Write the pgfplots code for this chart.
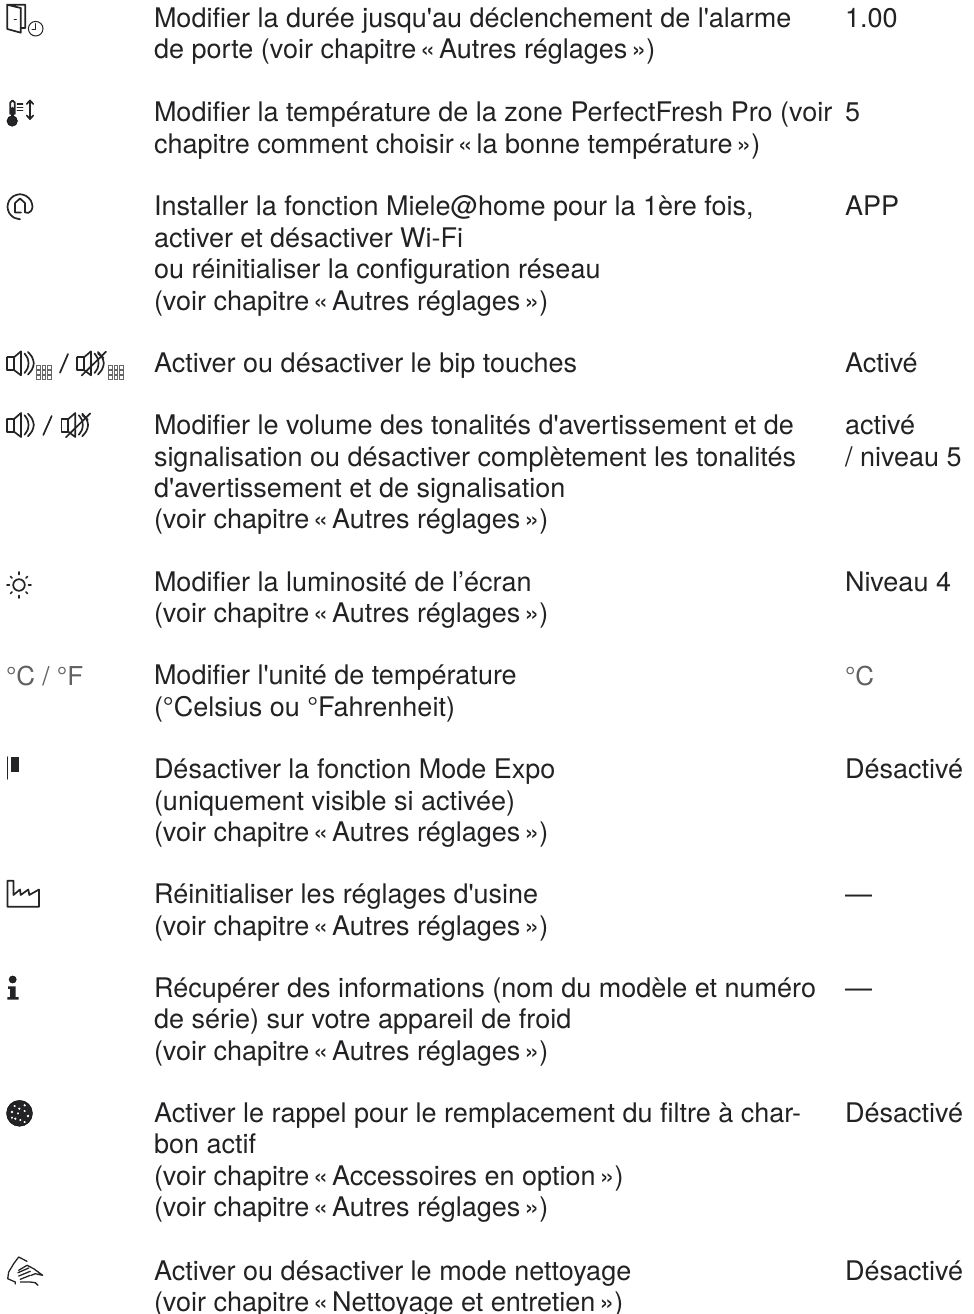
\documentclass[border=0pt]{standalone}
\usepackage{fontspec}
\usepackage{pgfplots}
\pgfplotsset{compat=1.18}
\newfontfamily\hv{TeX Gyre Heros}
\definecolor{ink}{HTML}{242426}
\definecolor{txt}{HTML}{222224}
\newcommand\og{\kern3.9pt«\kern3.9pt}
\newcommand\fg{\kern3.9pt»}
\pgfplotsset{ic/.style={draw=ink,line width=1.7pt,no markers,line join=round,line cap=round,forget plot}}
\newcommand\Ring[4]{\addplot[only marks,forget plot,mark=o,mark size=#3,mark options={draw=ink,line width=#4}] coordinates {(#1,#2)};}
\newcommand\Disc[4]{\addplot[only marks,forget plot,mark=*,mark size=#3,mark options={draw=none,fill=#4}] coordinates {(#1,#2)};}
\newcommand\Speaker[2]{%
 \addplot[ic,x filter/.expression={x+#1},y filter/.expression={y+#2}] coordinates {(7.3,357.3)(14,357.3)(14,370)(7.3,370)(7.3,357.3)};
 \addplot[ic,x filter/.expression={x+#1},y filter/.expression={y+#2}] coordinates {(14,357.3)(21,351.3)(21,375.3)(14,370)};
 \addplot[ic,smooth,x filter/.expression={x+#1},y filter/.expression={y+#2}] coordinates {(24.5,353.5)(27.5,358)(28.5,363.3)(27.5,368.5)(24.5,373)};
 \addplot[ic,smooth,x filter/.expression={x+#1},y filter/.expression={y+#2}] coordinates {(28,352)(32,357)(33.8,363.3)(32,369.5)(28,374.5)};
}
\newcommand\Mute[2]{%
 \Speaker{#1}{#2}
 \addplot[ic,x filter/.expression={x+#1},y filter/.expression={y+#2}] coordinates {(11.7,375.5)(36,351.7)};
 \addplot[ic,x filter/.expression={x+#1},y filter/.expression={y+#2}] coordinates {(28,353.5)(33.5,358)};
}
\newcommand\Keys[1]{%
 \addplot[only marks,forget plot,mark=square,mark size=1.9,mark options={draw=ink!70,line width=1pt},x filter/.expression={x+#1}] coordinates {(38.7,367.7)(44,367.7)(49.3,367.7)(38.7,372.5)(44,372.5)(49.3,372.5)(38.7,377.3)(44,377.3)(49.3,377.3)};
}
\newcommand\T[3]{\node[anchor=base west,inner sep=0pt,outer sep=0pt,text=txt] at (axis cs:#1,#2) {\hv\fontsize{27}{30}\selectfont #3};}
\newcommand\G[3]{\node[anchor=base west,inner sep=0pt,outer sep=0pt,text=black!62] at (axis cs:#1,#2) {\hv\fontsize{26}{30}\selectfont #3};}
\begin{document}
\begin{tikzpicture}
\begin{axis}[at={(0,0)},anchor=south west,scale only axis,width=974pt,height=1314pt,xmin=0,xmax=974,ymin=0,ymax=1314,y dir=reverse,hide axis,clip=false]
% door + clock
\addplot[ic] coordinates {(20.7,8)(7.3,4.8)(25.3,4.8)(25.3,28)(20.7,28)};
\addplot[ic] coordinates {(7.3,4.8)(7.3,29)(20.7,32.7)(20.7,8)};
\addplot[ic,line width=1.3pt] coordinates {(14.3,19.2)(16.3,19.2)};
\Ring{35.7}{28.7}{7.3}{1pt}
\addplot[ic,line width=0.9pt] coordinates {(35.7,23.5)(35.7,29.2)(32,29.2)};
% thermometer
\addplot[ic,line width=1.8pt] coordinates {(10.3,114)(10.3,102.5)(12.5,100.5)(14.8,102.5)(14.8,114)};
\addplot[ic,line width=2.5pt] coordinates {(12.5,108)(12.5,118)};
\Disc{12.2}{121}{5.3}{ink}
\addplot[ic,line width=1.3pt] coordinates {(17.3,104)(22.7,104)};
\addplot[ic,line width=1.3pt] coordinates {(17.3,107.4)(22.7,107.4)};
\addplot[ic,line width=1.3pt] coordinates {(17.3,110.7)(22.7,110.7)};
\addplot[ic] coordinates {(30,100.5)(30,119)};
\addplot[ic] coordinates {(26.8,104)(30,100.5)(33.2,104)};
\addplot[ic] coordinates {(26.8,115.5)(30,119)(33.2,115.5)};
% at-home
\addplot[ic,smooth] coordinates {(20,219.2)(13.7,217.5)(9.2,213)(7.5,206.7)(9.2,200.5)(13.7,196)(20,194.2)(26.2,196)(30.8,200.5)(32.5,206.7)(31,211)(28.5,212.8)(25,212.3)};
\addplot[ic] coordinates {(25,212.3)(25,203)(20,198.5)(15,203)(15,212.5)(21,212.5)};
% speakers
\Speaker{0}{0}
\Keys{0}
\addplot[ic] coordinates {(60,372.7)(68,354)};
\Mute{70}{0}
\Keys{72}
\Speaker{0}{61.7}
\addplot[ic] coordinates {(43.3,435)(51.7,416)};
\Mute{54.3}{61.7}
% sun
\Ring{19}{585}{5.8}{1.7pt}
\addplot[ic] coordinates {(19,572)(19,574.5)};
\addplot[ic] coordinates {(19,595.5)(19,598)};
\addplot[ic] coordinates {(7,585)(9.5,585)};
\addplot[ic] coordinates {(28.5,585)(31,585)};
\addplot[ic] coordinates {(10.5,576.5)(12,578)};
\addplot[ic] coordinates {(26,592)(27.5,593.5)};
\addplot[ic] coordinates {(27.5,576.5)(26,578)};
\addplot[ic] coordinates {(12,592)(10.5,593.5)};
% C / F
\G{6}{685}{°C / °F}
% flag
\addplot[ic,line width=1.2pt] coordinates {(7.5,757)(7.5,779)};
\addplot[draw=none,fill=ink,forget plot] coordinates {(10.8,756.8)(19.3,756.8)(19.3,772)(10.8,772)} --cycle;
% factory
\addplot[ic] coordinates {(7.5,880.7)(13.5,880.7)(13.5,895)(20,889.5)(20.7,895)(28.3,889.5)(29.3,895)(39,889.5)(39,906.7)(7.5,906.7)(7.5,880.7)};
% info
\Disc{12.7}{979.5}{3.6}{ink}
\addplot[draw=none,fill=ink,forget plot] coordinates {(8,986.3)(15.5,986.3)(15.5,997)(18.7,997)(18.7,999.7)(7.3,999.7)(7.3,997)(10,997)(10,988.8)(8,988.8)} --cycle;
% filter disc
\Disc{19.5}{1113.3}{13}{ink}
\addplot[only marks,forget plot,mark=*,mark size=1.8,mark options={draw=none,fill=white}] coordinates {(14.7,1106)(19.3,1108.7)(24.7,1105.3)(12,1112)(18,1113.3)(24.7,1111)(28,1116)(15.3,1118.7)(20.3,1120)(24.7,1122)(12,1117.7)};
% hand
\addplot[ic,line width=1.3pt] coordinates {(15.3,1284)(15.3,1282)(7.7,1278.7)(8.7,1272)(13.7,1263.7)(18.7,1257)(27,1261.3)};
\addplot[ic,line width=1.3pt] coordinates {(18.7,1270.3)(27,1265.3)(33.7,1268.7)(42.7,1275.3)(35.3,1273.7)(31.3,1275.3)};
\addplot[ic,line width=1.3pt] coordinates {(18,1272.7)(28.7,1268)};
\addplot[ic,line width=1.3pt] coordinates {(18.7,1276)(30.3,1271.3)};
\addplot[ic,line width=1.3pt] coordinates {(20.3,1279.3)(30.3,1275.3)};
\addplot[ic,line width=1.3pt] coordinates {(20.3,1282)(30.3,1282)(35.3,1282.7)(38,1285.3)};
% text
\T{154}{27.5}{Modifier la durée jusqu'au déclenchement de l'alarme}
\T{154}{59}{de porte (voir chapitre\og Autres réglages\fg)}
\T{845}{27.5}{1.00}
\T{154}{121}{Modifier la température de la zone PerfectFresh Pro (voir}
\T{154}{153}{chapitre comment choisir\og la bonne température\fg)}
\T{845}{121}{5}
\T{154}{215}{Installer la fonction Miele@home pour la 1ère fois,}
\T{154}{247}{activer et désactiver Wi-Fi}
\T{154}{278.5}{ou réinitialiser la configuration réseau}
\T{154}{310}{(voir chapitre\og Autres réglages\fg)}
\T{845}{215}{APP}
\T{154}{372}{Activer ou désactiver le bip touches}
\T{845}{372}{Activé}
\T{154}{434}{Modifier le volume des tonalités d'avertissement et de}
\T{154}{466}{signalisation ou désactiver complètement les tonalités}
\T{154}{497}{d'avertissement et de signalisation}
\T{154}{528.5}{(voir chapitre\og Autres réglages\fg)}
\T{845}{434}{activé}
\T{845}{466}{/ niveau 5}
\T{154}{591}{Modifier la luminosité de l’écran}
\T{154}{622.5}{(voir chapitre\og Autres réglages\fg)}
\T{845}{591}{Niveau 4}
\T{154}{684.5}{Modifier l'unité de température}
\T{154}{716}{(°Celsius ou °Fahrenheit)}
\G{845}{685}{°C}
\T{154}{778}{Désactiver la fonction Mode Expo}
\T{154}{810}{(uniquement visible si activée)}
\T{154}{841}{(voir chapitre\og Autres réglages\fg)}
\T{845}{778}{Désactivé}
\T{154}{903}{Réinitialiser les réglages d'usine}
\T{154}{935}{(voir chapitre\og Autres réglages\fg)}
\T{845}{903}{—}
\T{154}{997}{Récupérer des informations (nom du modèle et numéro}
\T{154}{1028.5}{de série) sur votre appareil de froid}
\T{154}{1060}{(voir chapitre\og Autres réglages\fg)}
\T{845}{997}{—}
\T{154}{1122}{Activer le rappel pour le remplacement du filtre à char-}
\T{154}{1153}{bon actif}
\T{154}{1185}{(voir chapitre\og Accessoires en option\fg)}
\T{154}{1216}{(voir chapitre\og Autres réglages\fg)}
\T{845}{1122}{Désactivé}
\T{154}{1280}{Activer ou désactiver le mode nettoyage}
\T{154}{1311}{(voir chapitre\og Nettoyage et entretien\fg)}
\T{845}{1280}{Désactivé}
\end{axis}
\pgfresetboundingbox
\path (0,0) rectangle (974pt,1314pt);
\end{tikzpicture}
\end{document}
